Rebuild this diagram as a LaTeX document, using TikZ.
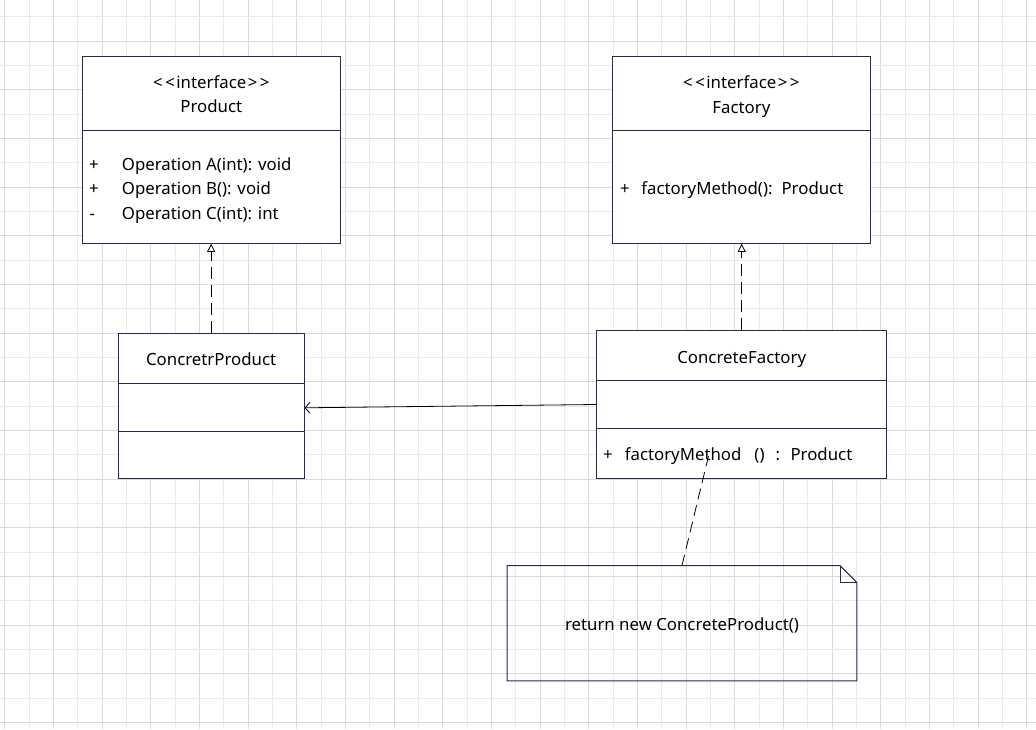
\documentclass[tikz,border=0pt]{standalone}
\usepackage{fontspec}
\setmainfont{Noto Sans}
\usetikzlibrary{arrows.meta}
\definecolor{gridA}{HTML}{DADADA}
\definecolor{gridB}{HTML}{EAEAEA}
\definecolor{umlc}{HTML}{262A55}
\tikzset{
  umlbox/.style={draw=umlc, line width=1pt, rectangle, inner sep=0pt, fill=white},
  divider/.style={draw=umlc, line width=1pt},
  txt/.style={inner sep=0pt, anchor=base, font=\fontsize{16.8}{19}\selectfont, text=black},
  txtw/.style={txt, anchor=base west},
  realize/.style={draw=black, line width=0.8pt, dash pattern=on 12pt off 6pt, -{Triangle[open,length=8pt,width=8pt,line width=0.8pt]}},
  assoc/.style={draw=black, line width=0.8pt, -{Straight Barb[length=5pt,width=11pt,line width=0.8pt]}},
  notelink/.style={draw=black, line width=0.8pt, dash pattern=on 11pt off 6pt},
}
\newcommand{\stereo}{<\kern2.5pt<\kern1.5pt interface\kern1.5pt>\kern2.5pt>}
\begin{document}
\begin{tikzpicture}[x=1pt,y=-1pt]
\useasboundingbox (0,0) rectangle (1036,729);
\fill[white] (0,0) rectangle (1036,729);
% grid
\foreach \i in {0,...,42} {
  \pgfmathtruncatemacro{\m}{mod(\i,2)}
  \ifnum\m=0 \def\gc{gridA}\else\def\gc{gridB}\fi
  \draw[\gc, line width=1pt] ({4.8+24.33*\i},0) -- ({4.8+24.33*\i},729);
}
\foreach \i in {-1,...,29} {
  \pgfmathtruncatemacro{\m}{mod(\i+2,2)}
  \ifnum\m=1 \def\gc{gridA}\else\def\gc{gridB}\fi
  \draw[\gc, line width=1pt] (0,{16.8+24.33*\i}) -- (1036,{16.8+24.33*\i});
}

% Product interface
\node[umlbox, minimum width=257.3pt, minimum height=186.6pt] (prod) at (211.35,150) {};
\draw[divider] (prod.west |- 0,130.7) -- (prod.east |- 0,130.7);
\node[txt] (prodst) at (211.35,88.5) {\stereo};
\node[txt] (prodname) at (211.35,112.7) {Product};
\node[txtw] (pa1) at (89,170) {+};
\node[txtw] (pa2) at (121.7,170) {Operation A(int): void};
\node[txtw] (pb1) at (89,194.5) {+};
\node[txtw] (pb2) at (121.7,194.5) {Operation B(): void};
\node[txtw] (pc1) at (89.5,219) {-};
\node[txtw] (pc2) at (121.7,219) {Operation C(int): int};

% Factory interface
\node[umlbox, minimum width=257.3pt, minimum height=186.6pt] (fac) at (741.35,150) {};
\draw[divider] (fac.west |- 0,130.7) -- (fac.east |- 0,130.7);
\node[txt] (facst) at (741.35,88.5) {\stereo};
\node[txt] (facname) at (741.35,113) {Factory};
\node[txtw] (facm) at (620,194.5) {+\hspace{11.5pt}factoryMethod():\hspace{9pt}Product};

% ConcretrProduct
\node[umlbox, minimum width=185.7pt, minimum height=145pt] (cprod) at (211.15,405.8) {};
\draw[divider] (cprod.west |- 0,383.3) -- (cprod.east |- 0,383.3);
\draw[divider] (cprod.west |- 0,431) -- (cprod.east |- 0,431);
\node[txt] (cprodname) at (211.15,365) {ConcretrProduct};

% ConcreteFactory
\node[umlbox, minimum width=290pt, minimum height=147.6pt] (cfac) at (741.7,404.5) {};
\draw[divider] (cfac.west |- 0,380.7) -- (cfac.east |- 0,380.7);
\draw[divider] (cfac.west |- 0,428.3) -- (cfac.east |- 0,428.3);
\node[txt] (cfacname) at (741.7,363.3) {ConcreteFactory};
\node[txtw] (cfacm) at (603,460.7) {+\hspace{12pt}factoryMethod\hspace{13pt}()\hspace{11pt}:\hspace{10.5pt}Product};

% Note
\node[inner sep=0pt, minimum width=349.4pt, minimum height=115pt] (note) at (682,623.2) {};
\draw[umlc, line width=1pt] (note.south west) -- (note.north west) -- ([xshift=-17pt]note.north east)
  -- ([yshift=-17pt]note.north east) -- (note.south east) -- cycle;
\draw[umlc, line width=0.8pt] ([xshift=-17pt]note.north east) |- ([yshift=-17pt]note.north east);
\node[txt] (notetext) at (682,630.7) {return new ConcreteProduct()};

% connectors
\draw[realize] (cprod.north) -- (cprod.north |- prod.south);
\draw[realize] (cfac.north) -- (cfac.north |- fac.south);
\draw[assoc] (cfac.west) -- ([yshift=-2pt]cprod.east);
\coordinate (nend) at (708.5,456);
\draw[notelink] (note.north) -- (nend);
\end{tikzpicture}
\end{document}
